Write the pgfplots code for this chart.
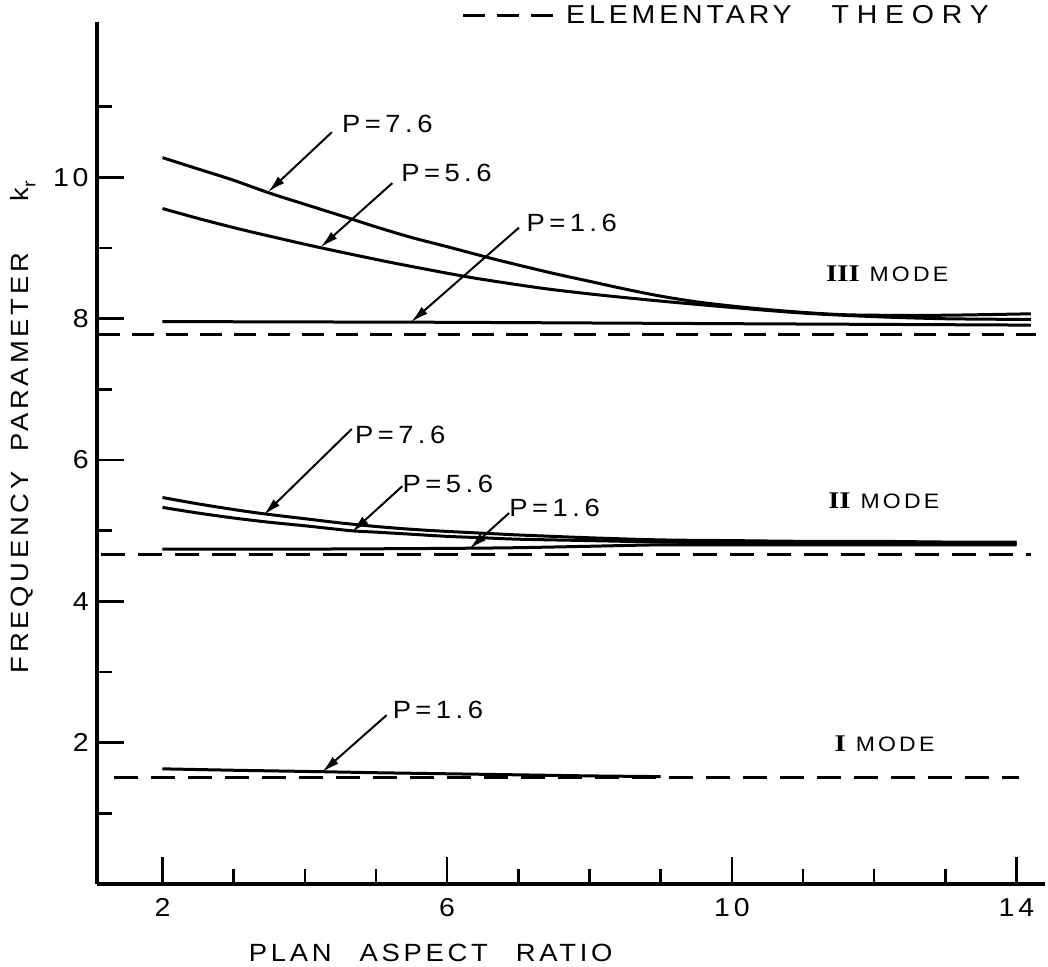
\documentclass[border=0pt]{standalone}
\usepackage{pgfplots}
\pgfplotsset{compat=1.18}
\usepackage{fontspec}
\usetikzlibrary{arrows.meta}
\newfontfamily\lab[LetterSpace=15,FakeStretch=1.1]{Liberation Sans}
\newfontfamily\wlab[LetterSpace=30,FakeStretch=1.1]{Liberation Sans}
\newfontfamily\plab[LetterSpace=18,FakeStretch=1.1]{Liberation Sans}
\newfontfamily\rom[FakeStretch=1.2]{Liberation Serif}

\begin{document}
\begin{tikzpicture}
\begin{axis}[
  scale only axis, width=474bp, height=431bp,
  xmin=1.08, xmax=14.4, ymin=0, ymax=12.2,
  enlargelimits=false,
  axis lines=left, axis line style={-, line width=2.2bp},
  tick align=inside,
  xtick={2,6,10,14}, ytick={2,4,6,8,10},
  minor xtick={3,4,5,7,8,9,11,12,13}, minor ytick={1,3,5,7,9,11},
  major tick length=13.5bp, minor tick length=7.5bp,
  every tick/.style={black, line width=1.3bp},
  /pgf/number format/assume math mode=true,
  ticklabel style={font=\lab\fontsize{13}{15}\selectfont},
  xticklabel style={inner sep=0pt, anchor=north, yshift=-7bp},
  yticklabel style={inner sep=0pt, anchor=east, xshift=-4bp},
  label style={font=\lab\fontsize{12.5}{14}\selectfont},
  xlabel={PLAN\hspace{14bp}ASPECT\hspace{14bp}RATIO},
  ylabel={FREQUENCY\hspace{10bp}PARAMETER\hspace{26bp}k\raisebox{-0.5ex}{\fontsize{9}{9}\selectfont r}},
  xlabel style={at={([yshift=-34.5bp]axis description cs:0.352,0)}, anchor=center},
  ylabel style={at={([xshift=-37bp]axis description cs:0,0.530)}, anchor=center},
  clip=false,
  legend style={at={(0.384,1.0074)}, anchor=west, draw=none, fill=none, inner sep=0pt,
    font=\lab\fontsize{13}{15}\selectfont, legend cell align=left},
  legend image code/.code={\draw[#1] (0bp,0bp) -- (45bp,0bp);},
]
\coordinate (ll) at (rel axis cs:0,0);

% Elementary theory (dashed)
\addplot[black, line width=1.4bp, dash pattern=on 11bp off 6bp] coordinates {(1.10,7.78) (14.28,7.78)};
\addlegendentry{\hspace{4bp}ELEMENTARY\hspace{20bp}{\wlab THEORY}}
\addplot[black, line width=1.4bp, dash pattern=on 12bp off 6.5bp, forget plot] coordinates {(1.13,4.66) (14.2,4.66)};
\addplot[black, line width=1.4bp, dash pattern=on 12bp off 6.5bp, forget plot] coordinates {(1.32,1.51) (14.03,1.51)};

% Mode III
\addplot[black, line width=1.5bp, smooth, forget plot] coordinates {
(2,10.28) (2.5,10.12) (3,9.96) (3.5,9.78) (4,9.62) (4.6,9.43) (5,9.3) (5.5,9.15) (6,9.02) (6.6,8.86) (7,8.76) (7.5,8.64) (8,8.53) (8.5,8.42) (9,8.32) (9.5,8.24) (10,8.18) (10.5,8.13) (11,8.09) (11.5,8.06) (12,8.05) (13,8.05) (14.2,8.07)};
\addplot[black, line width=1.5bp, smooth, forget plot] coordinates {
(2,9.56) (2.5,9.42) (3,9.29) (3.5,9.17) (4.2,9.01) (5,8.84) (5.5,8.74) (6.3,8.59) (7,8.48) (7.5,8.41) (8.2,8.33) (9,8.25) (10,8.16) (11,8.08) (12,8.03) (13,8.0) (14.2,7.99)};
\addplot[black, line width=1.5bp, forget plot] coordinates {
(2,7.96) (6,7.95) (10,7.93) (14.2,7.91)};

% Mode II
\addplot[black, line width=1.5bp, smooth, forget plot] coordinates {
(2,5.47) (2.5,5.38) (3,5.30) (3.42,5.24) (4,5.17) (4.5,5.11) (5,5.06) (5.5,5.02) (6,4.99) (6.6,4.96) (7,4.94) (8,4.90) (9,4.87) (10,4.86) (11,4.85) (12,4.85) (13,4.84) (14,4.84)};
\addplot[black, line width=1.5bp, smooth, forget plot] coordinates {
(2,5.33) (2.5,5.25) (3,5.18) (3.5,5.12) (4,5.07) (4.65,5.0) (5,4.98) (5.5,4.95) (6,4.92) (6.5,4.90) (7,4.88) (8,4.86) (9,4.84) (10,4.83) (12,4.82) (14,4.82)};
\addplot[black, line width=1.5bp, smooth, forget plot] coordinates {
(2,4.74) (4,4.74) (6,4.75) (7,4.76) (8,4.78) (9,4.80) (10,4.80) (12,4.80) (14,4.80)};

% Mode I
\addplot[black, line width=1.5bp, smooth, forget plot] coordinates {
(2,1.63) (3,1.61) (4.2,1.59) (5,1.575) (6,1.56) (7,1.545) (8,1.53) (9,1.52)};

% Annotations
\tikzset{ann/.style={-{Latex[length=9bp,width=4.5bp]}, line width=1bp}}
\tikzset{plabel/.style={anchor=west, inner sep=0pt, font=\plab\fontsize{12.5}{14}\selectfont}}
\draw[ann] (axis cs:4.38,10.64) -- (axis cs:3.48,9.79);
\node[plabel] at (axis cs:4.52,10.76) {P=7.6};
\draw[ann] (axis cs:5.23,9.92) -- (axis cs:4.22,9.01);
\node[plabel] at (axis cs:5.35,10.06) {P=5.6};
\draw[ann] (axis cs:7.01,9.29) -- (axis cs:5.49,7.95);
\node[plabel] at (axis cs:7.11,9.36) {P=1.6};

\draw[ann] (axis cs:4.66,6.44) -- (axis cs:3.42,5.22);
\node[plabel] at (axis cs:4.70,6.36) {P=7.6};
\draw[ann] (axis cs:5.37,5.63) -- (axis cs:4.66,4.98);
\node[plabel] at (axis cs:5.37,5.66) {P=5.6};
\draw[ann] (axis cs:6.87,5.25) -- (axis cs:6.31,4.74);
\node[plabel] at (axis cs:6.87,5.32) {P=1.6};

\draw[ann] (axis cs:5.15,2.39) -- (axis cs:4.24,1.58);
\node[plabel] at (axis cs:5.23,2.46) {P=1.6};

\tikzset{mlabel/.style={anchor=west, inner sep=0pt, font=\lab\fontsize{10.5}{12}\selectfont}}
\node[mlabel] at (axis cs:11.32,8.63) {{\rom\bfseries\fontsize{12}{12}\selectfont III}\hspace{5bp}MODE};
\node[mlabel] at (axis cs:11.35,5.43) {{\rom\bfseries\fontsize{12}{12}\selectfont II}\hspace{5bp}MODE};
\node[mlabel] at (axis cs:11.44,1.98) {{\rom\bfseries\fontsize{12}{12}\selectfont I}\hspace{5bp}MODE};
\end{axis}
\pgfresetboundingbox
\path ([shift={(-48.5bp,-41.5bp)}]ll) rectangle ++(524bp,483.5bp);
\end{tikzpicture}
\end{document}
